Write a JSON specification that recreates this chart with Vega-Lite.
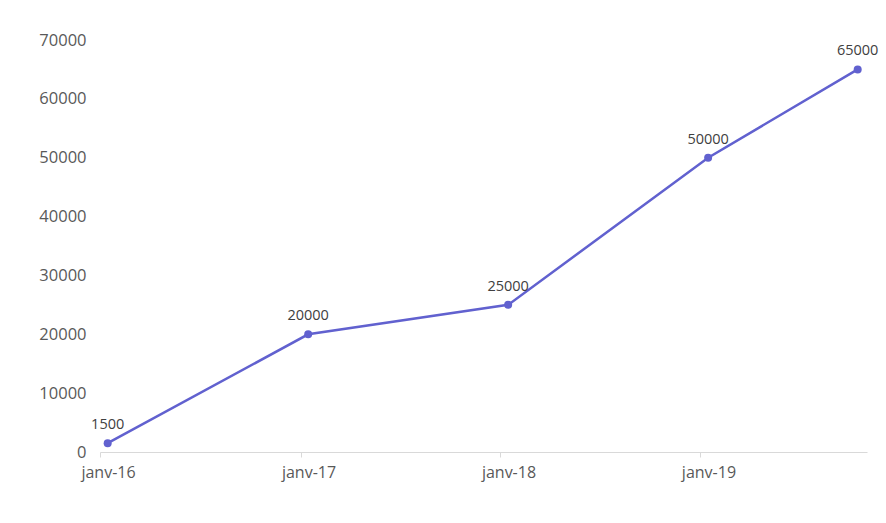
{
  "$schema": "https://vega.github.io/schema/vega-lite/v6.json",
  "width": 767,
  "height": 412,
  "autosize": "none",
  "padding": {"left": 100, "top": 40, "right": 19, "bottom": 71},
  "background": "white",
  "config": {
    "view": {"stroke": null},
    "font": "Open Sans"
  },
  "data": {
    "values": [
      {"date": "2016-01-15", "value": 1500},
      {"date": "2017-01-15", "value": 20000},
      {"date": "2018-01-15", "value": 25000},
      {"date": "2019-01-15", "value": 50000},
      {"date": "2019-10-15", "value": 65000}
    ]
  },
  "encoding": {
    "x": {
      "field": "date",
      "type": "temporal",
      "scale": {
        "type": "utc",
        "domain": [
          {"year": 2016, "month": 1, "date": 1, "utc": true},
          {"year": 2019, "month": 11, "date": 1, "utc": true}
        ]
      },
      "axis": {
        "title": null,
        "grid": false,
        "format": "janv-%y",
        "values": [
          {"year": 2016, "month": 1, "date": 1, "utc": true},
          {"year": 2017, "month": 1, "date": 1, "utc": true},
          {"year": 2018, "month": 1, "date": 1, "utc": true},
          {"year": 2019, "month": 1, "date": 1, "utc": true}
        ],
        "domainColor": "#d9d9d9",
        "tickColor": "#d9d9d9",
        "tickSize": 5,
        "labelOffset": 8,
        "labelFontSize": 16,
        "labelColor": "#595959",
        "labelPadding": 7,
        "labelFlush": false
      }
    },
    "y": {
      "field": "value",
      "type": "quantitative",
      "scale": {"domain": [0, 70000], "nice": false},
      "axis": {
        "title": null,
        "grid": false,
        "domain": false,
        "ticks": false,
        "values": [0, 10000, 20000, 30000, 40000, 50000, 60000, 70000],
        "format": "d",
        "labelPadding": 14,
        "labelFontSize": 16.5,
        "labelColor": "#595959"
      }
    }
  },
  "layer": [
    {"mark": {"type": "line", "color": "#6161cf", "strokeWidth": 2.5}},
    {"mark": {"type": "point", "filled": true, "color": "#6161cf", "size": 64, "opacity": 1}},
    {
      "mark": {"type": "text", "dy": -18, "fontSize": 14.5, "color": "#404040"},
      "encoding": {"text": {"field": "value", "type": "quantitative", "format": "d"}}
    }
  ]
}
